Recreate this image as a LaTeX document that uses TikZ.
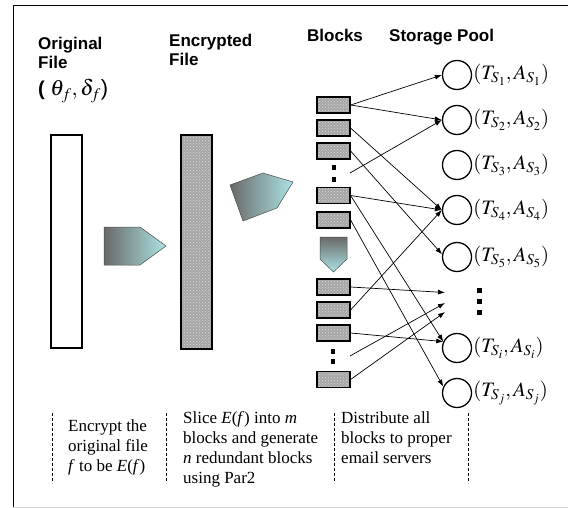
\documentclass[tikz,border=0pt]{standalone}
\usepackage{mathptmx}
\usepackage{fontspec}
\setmainfont{Liberation Serif}
\setsansfont{Liberation Sans}
\usetikzlibrary{positioning,patterns,arrows.meta}
\definecolor{arrowdark}{RGB}{105,105,105}
\definecolor{arrowlight}{RGB}{172,228,228}

\begin{document}
\begin{tikzpicture}[x=1pt,y=-1pt,node distance=23pt]
	\tikzstyle{block} = [rectangle, draw=black, line width=1.2pt, minimum width=33pt, minimum height=16pt, inner sep=0pt, preaction={fill=gray!70}, pattern=crosshatch dots, pattern color=gray!30]
	\tikzstyle{server} = [circle, draw=black, line width=1.3pt, minimum size=29pt, inner sep=0pt]
	\tikzstyle{smalldot} = [rectangle, fill=black, minimum width=4pt, minimum height=5pt, inner sep=0pt]
	\tikzstyle{bigdot} = [rectangle, fill=black, minimum width=5pt, minimum height=5pt, inner sep=0pt]
	\tikzstyle{title} = [anchor=north west, align=left, inner sep=0pt, font=\sffamily\bfseries\fontsize{17}{19}\selectfont]
	\tikzstyle{addr} = [inner sep=0pt, font=\fontsize{20.5}{24}\selectfont]
	\tikzstyle{note} = [anchor=north west, align=left, inner sep=0pt, font=\fontsize{17}{20}\selectfont]
	\tikzstyle{send} = [-{Latex[length=7pt,width=5pt]}, line width=0.7pt]
	\tikzstyle{arrowshape} = [draw=gray!60!black, line width=0.5pt]

	\useasboundingbox (0,0) rectangle (568,508);

	% frame
	\draw[line width=1pt] (568,6) -- (13,6) -- (13,507);
	\draw[gray!30, line width=1pt] (13,507) -- (568,507);

	% headings
	\node [title] (orig) at (38,36.5) {Original\\File};
	\node [anchor=base west, inner sep=0pt, font=\sffamily\bfseries\fontsize{20}{24}\selectfont] (param) at (38,96) {( \fontsize{22}{24}\selectfont$\theta_f,\delta_f$\mdseries)};
	\node [title] (enc) at (169,33.5) {Encrypted\\File};
	\node [title, anchor=base west] (blk) at (307,42) {Blocks};
	\node [title, anchor=base west] (pool) at (389,42) {Storage Pool};

	% files
	\draw[line width=1.3pt] (51,135) rectangle (82,348);
	\draw[line width=1.3pt, preaction={fill=gray!70}, pattern=crosshatch dots, pattern color=gray!30] (181,135) rectangle (212,349);

	% process arrows
	\shadedraw[arrowshape, left color=arrowdark, right color=arrowlight] (104,227) -- (140,227) -- (166,246) -- (140,265) -- (104,265) -- cycle;
	\shadedraw[arrowshape, left color=arrowdark, right color=arrowlight] (230,185) -- (263,173) -- (293,182) -- (277,208) -- (243,221) -- cycle;
	\shadedraw[arrowshape, top color=arrowdark, bottom color=arrowlight] (320,237) -- (347,237) -- (347,259) -- (333.5,272) -- (320,259) -- cycle;

	% blocks
	\node [block] (b1) at (333.5,105) {};
	\node [block, below of=b1] (b2) {};
	\node [block, below of=b2] (b3) {};
	\node [smalldot] (d1a) at (333.5,167.5) {};
	\node [smalldot] (d1b) at (333.5,179.2) {};
	\coordinate (d1) at (350,173);
	\node [block] (b4) at (333.5,195.5) {};
	\node [block, below of=b4, yshift=-1.5pt] (b5) {};

	\node [block] (b6) at (333.5,287) {};
	\node [block, below of=b6] (b7) {};
	\node [block, below of=b7] (b8) {};
	\node [smalldot] (d2a) at (333,351) {};
	\node [smalldot] (d2b) at (333,361.7) {};
	\coordinate (d2) at (350,356);
	\node [block] (b9) at (333.5,379.5) {};

	% storage pool
	\node [server] (s1) at (457,75) {};
	\node [server, below of=s1, node distance=45pt] (s2) {};
	\node [server, below of=s2, node distance=45pt] (s3) {};
	\node [server, below of=s3, node distance=45pt] (s4) {};
	\node [server, below of=s4, node distance=45pt, yshift=-2pt] (s5) {};
	\node [server] (si) at (457,348) {};
	\node [server, below of=si, node distance=45pt] (sj) {};

	\node [addr, right=1pt of s1] (a1) {$(T_{S_1},A_{S_1})$};
	\node [addr, right=1pt of s2] (a2) {$(T_{S_2},A_{S_2})$};
	\node [addr, right=1pt of s3] (a3) {$(T_{S_3},A_{S_3})$};
	\node [addr, right=1pt of s4] (a4) {$(T_{S_4},A_{S_4})$};
	\node [addr, right=1pt of s5] (a5) {$(T_{S_5},A_{S_5})$};
	\node [addr, right=1pt of si] (ai) {$(T_{S_i},A_{S_i})$};
	\node [addr, right=1pt of sj] (aj) {$(T_{S_j},A_{S_j})$};

	\node [bigdot] (e1) at (479.5,290.5) {};
	\node [bigdot] (e2) at (479.5,301.7) {};
	\node [bigdot] (e3) at (479.5,312.5) {};
	\coordinate (m1) at (445,292.5);
	\coordinate (m2) at (445,303);
	\coordinate (m3) at (445,312);

	% distribution
	\draw[send] (b1.east) -- (s1.west);
	\draw[send] (b1.east) -- (s2.west);
	\draw[send] (d1) -- (s2.west);
	\draw[send] (b2.east) -- (s4.west);
	\draw[send] (b3.east) -- (s5.170);
	\draw[send] (b4.east) -- (s4.west);
	\draw[send] (b4.east) -- (si.155);
	\draw[send] (b5.east) -- (sj.155);
	\draw[send] (b6.east) -- (m1);
	\draw[send] (b7.east) -- (s4.west);
	\draw[send] (b8.east) -- (si.155);
	\draw[send] (d2) -- (m2);
	\draw[send] (b9.east) -- (m3);

	% steps
	\foreach \x in {52,166,334,468}
		\draw[dashed, dash pattern=on 3pt off 2pt, line width=0.7pt] (\x,413) -- (\x,483);
	\node [note] (n1) at (68,419.5) {Encrypt the\\original file\\\textit{f} to be \textit{E}(\textit{f})};
	\node [note] (n2) at (183,411.5) {Slice \textit{E}(\textit{f}) into \textit{m}\\blocks and generate\\\textit{n} redundant blocks\\using Par2};
	\node [note] (n3) at (341,411.5) {Distribute all\\blocks to proper\\email servers};
\end{tikzpicture}
\end{document}
